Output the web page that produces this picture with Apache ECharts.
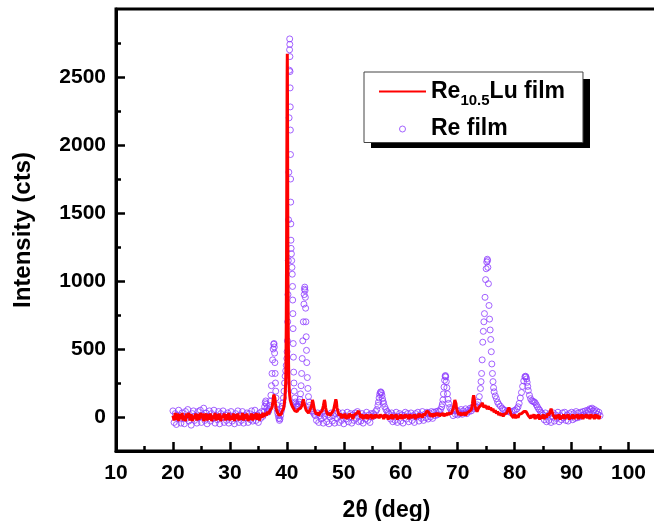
<!DOCTYPE html>
<html>
<head>
<meta charset="utf-8">
<script src="https://cdn.jsdelivr.net/npm/echarts@6/dist/echarts.min.js"></script>
<style>
  html, body { margin: 0; padding: 0; background: #fff; }
  #chart { width: 654px; height: 521px; }
</style>
</head>
<body>
<div id="chart"></div>
<script>
// XRD patterns: [2theta, counts]
const reFilm = [
  [20.0,45],[20.2,-40],[20.4,25],[20.6,-55],[20.8,10],[21.0,50],[21.2,-15],[21.4,-45],[21.6,30],[21.8,5],
  [22.0,-50],[22.2,40],[22.4,-10],[22.6,55],[22.8,-30],[23.0,0],[23.2,-60],[23.4,25],[23.6,45],[23.8,-25],
  [24.0,10],[24.2,-45],[24.4,40],[24.6,-5],[24.8,50],[25.0,-40],[25.2,15],[25.4,65],[25.6,-25],[25.8,30],
  [26.0,-50],[26.2,5],[26.4,45],[26.6,-30],[26.8,25],[27.0,-10],[27.2,50],[27.4,-45],[27.6,10],[27.8,-20],
  [28.0,40],[28.2,-50],[28.4,25],[28.6,-5],[28.8,45],[29.0,-40],[29.2,15],[29.4,-25],[29.6,30],[29.8,-45],
  [30.0,10],[30.2,40],[30.4,-30],[30.6,5],[30.8,-50],[31.0,25],[31.2,-10],[31.4,45],[31.6,-40],[31.8,15],
  [32.0,-25],[32.2,40],[32.4,-45],[32.6,10],[32.8,-5],[33.0,30],[33.2,-40],[33.4,25],[33.6,-20],[33.8,45],
  [34.0,-30],[34.2,10],[34.4,50],[34.6,-25],[34.8,15],[35.0,-40],[35.2,30],[35.4,-10],[35.6,40],[35.8,5],
  [36.0,40],[36.1,75],[36.2,105],[36.3,118],[36.4,95],[36.5,65],[36.6,45],[36.7,35],[36.8,45],[36.9,60],
  [37.0,85],[37.1,115],[37.2,160],[37.3,230],[37.4,320],[37.5,420],[37.6,500],[37.7,535],[37.75,540],[37.8,515],
  [37.85,470],[37.9,400],[37.95,320],[38.0,250],[38.05,190],[38.1,140],[38.2,90],[38.3,55],[38.4,30],[38.5,10],
  [38.6,-10],[38.7,-25],[38.8,-15],[38.9,10],[39.0,40],[39.1,60],[39.2,80],[39.3,105],[39.4,140],[39.5,190],
  [39.6,250],[39.7,300],[39.8,340],[39.9,380],[40.0,430],[40.05,480],[40.1,560],[40.15,700],[40.2,900],[40.25,1150],
  [40.3,1450],[40.35,1800],[40.4,2200],[40.45,2550],[40.48,2700],[40.5,2780],[40.52,2740],[40.54,2650],[40.56,2540],[40.58,2420],
  [40.6,2280],[40.62,2110],[40.64,1930],[40.66,1750],[40.68,1580],[40.7,1420],[40.72,1300],[40.75,1240],[40.8,1200],[40.85,1150],
  [40.9,1100],[40.95,1050],[41.0,960],[41.03,860],[41.06,760],[41.09,650],[41.12,540],[41.15,440],[41.2,330],[41.25,250],
  [41.3,190],[41.4,140],[41.5,110],[41.6,95],[41.7,85],[41.8,80],[41.9,75],[42.0,80],[42.1,95],[42.2,110],
  [42.3,130],[42.4,170],[42.5,230],[42.6,320],[42.7,430],[42.8,560],[42.9,700],[43.0,830],[43.05,900],[43.1,940],
  [43.15,955],[43.2,930],[43.25,880],[43.3,800],[43.35,700],[43.4,590],[43.45,490],[43.5,400],[43.6,290],[43.7,210],
  [43.8,150],[43.9,110],[44.0,85],[44.2,60],[44.4,45],[44.6,35],[44.8,20],[45.0,10],
  [45.2,-25],[45.4,30],[45.6,-40],[45.8,10],[46.0,-15],[46.2,35],[46.4,-45],[46.6,5],[46.8,25],[47.0,-35],
  [47.2,15],[47.4,-50],[47.6,0],[47.8,30],[48.0,-30],[48.2,10],[48.4,-45],[48.6,25],[48.8,-10],[49.0,35],
  [49.2,-40],[49.4,5],[49.6,-25],[49.8,30],[50.0,-50],[50.2,10],[50.4,-15],[50.6,35],[50.8,-35],[51.0,0],
  [51.2,25],[51.4,-45],[51.6,15],[51.8,-25],[52.0,30],[52.2,-10],[52.4,40],[52.6,-35],[52.8,5],[53.0,-30],
  [53.2,25],[53.4,-45],[53.6,10],[53.8,-15],[54.0,35],[54.2,-25],[54.4,15],[54.6,-40],[54.8,25],[55.0,0],
  [55.2,25],[55.4,10],[55.6,40],[55.8,55],[56.0,85],[56.1,110],[56.2,140],[56.3,165],[56.4,180],[56.5,185],
  [56.6,178],[56.7,160],[56.8,135],[56.9,115],[57.0,100],[57.2,75],[57.4,55],[57.6,40],[57.8,30],[58.0,20],
  [58.2,-15],[58.4,30],[58.6,-35],[58.8,10],[59.0,-25],[59.2,35],[59.4,-40],[59.6,5],[59.8,25],[60.0,-30],
  [60.2,15],[60.4,-45],[60.6,10],[60.8,35],[61.0,-15],[61.2,25],[61.4,-35],[61.6,5],[61.8,30],[62.0,-25],
  [62.2,10],[62.4,-40],[62.6,25],[62.8,0],[63.0,35],[63.2,-30],[63.4,15],[63.6,-10],[63.8,40],[64.0,-25],
  [64.2,20],[64.4,-5],[64.6,35],[64.8,-15],[65.0,30],[65.2,0],[65.4,40],[65.6,-10],[65.8,35],[66.0,10],
  [66.2,40],[66.4,15],[66.6,45],[66.8,40],[67.0,55],[67.2,75],[67.3,95],[67.4,125],[67.5,170],[67.6,220],
  [67.7,270],[67.8,300],[67.85,305],[67.9,295],[68.0,260],[68.1,215],[68.2,170],[68.3,130],[68.4,100],[68.6,70],
  [68.8,55],[69.0,45],[69.2,10],[69.4,45],[69.6,20],[69.8,50],[70.0,15],[70.2,40],[70.4,25],[70.6,55],
  [70.8,20],[71.0,45],[71.2,30],[71.4,60],[71.6,25],[71.8,50],[72.0,40],[72.2,65],[72.4,45],[72.6,70],
  [72.8,60],[73.0,75],[73.2,80],[73.4,90],[73.6,110],[73.8,150],[74.0,210],[74.1,260],[74.2,320],[74.3,420],
  [74.4,550],[74.5,630],[74.6,700],[74.7,760],[74.8,880],[74.9,1010],[75.0,1090],[75.1,1140],[75.2,1160],[75.25,1150],
  [75.3,1100],[75.4,980],[75.5,820],[75.6,720],[75.7,640],[75.8,570],[75.9,480],[76.0,390],[76.1,320],[76.2,260],
  [76.3,215],[76.4,185],[76.6,155],[76.8,135],[77.0,110],[77.2,95],[77.5,80],[77.8,65],[78.0,55],[78.3,50],
  [78.6,40],[78.9,45],[79.2,35],[79.5,40],[79.8,45],[80.1,50],[80.4,60],[80.6,75],[80.8,100],[81.0,140],
  [81.2,180],[81.4,225],[81.6,265],[81.8,295],[81.9,300],[82.0,295],[82.1,280],[82.2,255],[82.3,225],[82.4,195],
  [82.6,160],[82.8,135],[83.0,120],[83.2,115],[83.4,112],[83.6,105],[83.8,90],[84.0,75],[84.2,60],[84.4,50],
  [84.6,35],[84.8,25],[85.0,15],[85.2,-20],[85.4,30],[85.6,-35],[85.8,10],[86.0,-25],[86.2,25],[86.4,-40],
  [86.6,5],[86.8,30],[87.0,-30],[87.2,15],[87.4,-10],[87.6,35],[87.8,-35],[88.0,10],[88.2,-20],[88.4,30],
  [88.6,-5],[88.8,35],[89.0,-25],[89.2,15],[89.4,-30],[89.6,25],[89.8,0],[90.0,35],[90.2,-20],[90.4,25],
  [90.6,-10],[90.8,40],[91.0,-5],[91.2,30],[91.4,0],[91.6,35],[91.8,10],[92.0,40],[92.2,15],[92.4,45],
  [92.6,25],[92.8,50],[93.0,40],[93.2,60],[93.4,55],[93.6,65],[93.8,45],[94.0,55],[94.2,30],[94.4,45],
  [94.6,20],[94.8,35],[95.0,10]
];

const reLuFilm = [
  [20.0,10],[20.2,-25],[20.4,30],[20.6,-20],[20.8,25],[21.0,-30],[21.2,20],[21.4,-15],[21.6,30],[21.8,-25],
  [22.0,10],[22.2,-30],[22.4,25],[22.6,-5],[22.8,30],[23.0,-25],[23.2,20],[23.4,-30],[23.6,10],[23.8,-15],
  [24.0,25],[24.2,-25],[24.4,20],[24.6,-20],[24.8,30],[25.0,-10],[25.2,25],[25.4,-30],[25.6,5],[25.8,25],
  [26.0,-25],[26.2,20],[26.4,-20],[26.6,25],[26.8,-30],[27.0,10],[27.2,-15],[27.4,30],[27.6,-25],[27.8,20],
  [28.0,-20],[28.2,25],[28.4,-30],[28.6,10],[28.8,-5],[29.0,25],[29.2,-25],[29.4,20],[29.6,-20],[29.8,30],
  [30.0,-25],[30.2,10],[30.4,-20],[30.6,25],[30.8,-30],[31.0,20],[31.2,-15],[31.4,25],[31.6,-25],[31.8,10],
  [32.0,-20],[32.2,30],[32.4,-25],[32.6,20],[32.8,-15],[33.0,25],[33.2,-30],[33.4,10],[33.6,-20],[33.8,25],
  [34.0,-25],[34.2,20],[34.4,-15],[34.6,30],[34.8,-20],[35.0,25],[35.2,-25],[35.4,20],[35.6,-5],[35.8,30],
  [36.0,0],[36.2,30],[36.4,10],[36.6,40],[36.8,20],[37.0,45],[37.2,35],[37.4,70],[37.5,95],[37.6,130],
  [37.7,165],[37.8,175],[37.9,140],[38.0,100],[38.1,70],[38.2,50],[38.4,30],[38.6,15],[38.8,25],[39.0,20],
  [39.2,45],[39.4,60],[39.5,80],[39.6,110],[39.7,160],[39.8,260],[39.85,420],[39.9,700],[39.95,1200],[40.0,1900],
  [40.05,2500],[40.08,2670],[40.1,2550],[40.13,2100],[40.16,1550],[40.2,1000],[40.25,620],[40.3,400],[40.35,290],[40.4,220],
  [40.5,160],[40.6,125],[40.8,95],[41.0,75],[41.2,60],[41.4,45],[41.6,55],[41.8,40],[42.0,55],[42.2,45],
  [42.4,65],[42.6,80],[42.8,115],[42.9,130],[43.0,110],[43.2,75],[43.4,50],[43.6,40],[43.8,30],[44.0,45],
  [44.2,55],[44.4,90],[44.5,125],[44.6,110],[44.8,60],[45.0,35],[45.2,20],[45.4,35],[45.6,10],[45.8,30],
  [46.0,25],[46.2,45],[46.4,80],[46.6,125],[46.7,110],[46.8,70],[47.0,35],[47.2,15],[47.4,30],[47.6,10],
  [47.8,25],[48.0,30],[48.2,50],[48.4,90],[48.6,130],[48.7,115],[48.8,70],[49.0,35],[49.2,10],[49.4,25],
  [49.6,-10],[49.8,20],[50.0,-5],[50.2,25],[50.4,-15],[50.6,15],[50.8,-10],[51.0,25],[51.2,0],[51.4,20],
  [51.6,-15],[51.8,15],[52.0,5],[52.2,25],[52.4,30],[52.6,45],[52.8,20],[53.0,-5],[53.2,20],[53.4,-15],
  [53.6,15],[53.8,-10],[54.0,20],[54.2,-15],[54.4,15],[54.6,-5],[54.8,20],[55.0,-15],[55.2,15],[55.4,-10],
  [55.6,20],[55.8,-5],[56.0,15],[56.2,-10],[56.4,20],[56.6,0],[56.8,15],[57.0,-15],[57.2,20],[57.4,-5],
  [57.6,15],[57.8,-20],[58.0,10],[58.2,-10],[58.4,20],[58.6,-15],[58.8,15],[59.0,-5],[59.2,20],[59.4,-20],
  [59.6,10],[59.8,-10],[60.0,20],[60.2,-15],[60.4,15],[60.6,-10],[60.8,20],[61.0,-5],[61.2,15],[61.4,-15],
  [61.6,20],[61.8,-10],[62.0,15],[62.2,-5],[62.4,20],[62.6,-15],[62.8,15],[63.0,-5],[63.2,25],[63.4,0],
  [63.6,20],[63.8,-5],[64.0,25],[64.2,10],[64.4,30],[64.6,45],[64.8,55],[65.0,30],[65.2,5],[65.4,25],
  [65.6,0],[65.8,25],[66.0,5],[66.2,30],[66.4,10],[66.6,30],[66.8,5],[67.0,25],[67.2,10],[67.4,30],
  [67.6,5],[67.8,25],[68.0,10],[68.2,30],[68.4,15],[68.6,35],[68.8,20],[69.0,40],[69.2,60],[69.4,100],
  [69.5,125],[69.6,130],[69.7,100],[69.8,60],[70.0,35],[70.2,15],[70.4,35],[70.6,10],[70.8,30],[71.0,15],
  [71.2,35],[71.4,10],[71.6,30],[71.8,20],[72.0,40],[72.2,30],[72.4,55],[72.6,100],[72.7,140],[72.8,160],
  [72.9,140],[73.0,90],[73.2,55],[73.4,40],[73.6,60],[73.8,75],[74.0,70],[74.2,90],[74.3,105],[74.4,95],
  [74.6,70],[74.8,85],[75.0,75],[75.2,60],[75.4,80],[75.6,55],[75.8,70],[76.0,45],[76.2,60],[76.4,35],
  [76.6,50],[76.8,25],[77.0,40],[77.2,15],[77.4,30],[77.6,10],[77.8,25],[78.0,5],[78.2,20],[78.4,10],
  [78.6,30],[78.8,50],[79.0,70],[79.2,40],[79.4,15],[79.6,25],[79.8,-5],[80.0,20],[80.2,-10],[80.4,15],
  [80.6,-5],[80.8,20],[81.0,10],[81.2,25],[81.4,30],[81.6,40],[81.8,35],[82.0,40],[82.2,25],[82.4,10],
  [82.6,20],[82.8,-10],[83.0,15],[83.2,-5],[83.4,20],[83.6,-15],[83.8,15],[84.0,-10],[84.2,20],[84.4,-20],
  [84.6,10],[84.8,-10],[85.0,20],[85.2,-15],[85.4,15],[85.6,-5],[85.8,25],[86.0,10],[86.2,35],[86.4,60],
  [86.6,35],[86.8,10],[87.0,20],[87.2,-15],[87.4,15],[87.6,-10],[87.8,20],[88.0,-20],[88.2,10],[88.4,-10],
  [88.6,20],[88.8,-15],[89.0,15],[89.2,-5],[89.4,20],[89.6,-20],[89.8,10],[90.0,-10],[90.2,20],[90.4,-15],
  [90.6,15],[90.8,-5],[91.0,20],[91.2,-15],[91.4,15],[91.6,-10],[91.8,20],[92.0,-15],[92.2,15],[92.4,-5],
  [92.6,20],[92.8,-10],[93.0,15],[93.2,-15],[93.4,20],[93.6,-5],[93.8,15],[94.0,-15],[94.2,20],[94.4,-10],
  [94.6,15],[94.8,-15],[95.0,10]
];

// tick positions
const xMajorTicks = [10, 20, 30, 40, 50, 60, 70, 80, 90, 100];
const xMinorTicks = [15, 25, 35, 45, 55, 65, 75, 85, 95];
const yMajorTicks = [0, 500, 1000, 1500, 2000, 2500];
const yMinorTicks = [250, 750, 1250, 1750, 2250, 2750];

const font = "'Liberation Sans', Arial, sans-serif";
const purple = '#8c3cff';
const red = '#ff0000';

const tickLine = {color: '#000', width: 2.5};
const labelStyle = {color: '#000', fontSize: 21, fontWeight: 'bold', fontFamily: font};

const chart = echarts.init(document.getElementById('chart'));

const option = {
  animation: false,
  backgroundColor: '#fff',
  grid: {
    left: 116, top: 9, right: -3, bottom: 70,
    outerBoundsMode: 'none',
    show: true, borderColor: '#000', borderWidth: 3
  },
  // legend drop shadow
  graphic: [{
    type: 'rect', z: 3, silent: true,
    shape: {x: 371, y: 79, width: 219, height: 69},
    style: {fill: '#000'}
  }],
  xAxis: [
    {
      type: 'value', min: 10, max: 105, position: 'bottom',
      axisLine: {show: true, onZero: false, lineStyle: {color: '#000', width: 3}},
      axisTick: {show: true, inside: true, length: 9, customValues: xMajorTicks, lineStyle: tickLine},
      axisLabel: {customValues: xMajorTicks, margin: 12, formatter: v => String(v), ...labelStyle},
      splitLine: {show: false},
      name: '2θ (deg)', nameLocation: 'middle', nameGap: 48,
      nameTextStyle: {color: '#000', fontSize: 23, fontWeight: 'bold', fontFamily: font}
    },
    {
      type: 'value', min: 10, max: 105, position: 'bottom',
      axisLine: {show: false, onZero: false},
      axisTick: {show: true, inside: true, length: 5, customValues: xMinorTicks, lineStyle: tickLine},
      axisLabel: {show: false},
      splitLine: {show: false}
    }
  ],
  yAxis: [
    {
      type: 'value', min: -250, max: 3000, position: 'left',
      axisLine: {show: true, onZero: false, lineStyle: {color: '#000', width: 3}},
      axisTick: {show: true, inside: true, length: 9, customValues: yMajorTicks, lineStyle: tickLine},
      axisLabel: {customValues: yMajorTicks, margin: 10, formatter: v => String(v), ...labelStyle},
      splitLine: {show: false},
      name: 'Intensity (cts)', nameLocation: 'middle', nameGap: 81,
      nameTextStyle: {color: '#000', fontSize: 24, fontWeight: 'bold', fontFamily: font}
    },
    {
      type: 'value', min: -250, max: 3000, position: 'left',
      axisLine: {show: false, onZero: false},
      axisTick: {show: true, inside: true, length: 5, customValues: yMinorTicks, lineStyle: tickLine},
      axisLabel: {show: false},
      splitLine: {show: false}
    }
  ],
  legend: {
    orient: 'vertical', left: 364, top: 72, z: 4,
    data: [
      {name: 'Re10.5Lu film', icon: 'path://M0,0H46V2H0Z'},
      {name: 'Re film', icon: 'circle'}
    ],
    itemWidth: 47, itemHeight: 6, itemGap: 9,
    padding: [8, 18, 2, 15],
    backgroundColor: '#fff', borderColor: '#444', borderWidth: 1,
    selectedMode: false,
    itemStyle: {borderWidth: 1},
    formatter: function (name) {
      return name === 'Re10.5Lu film' ? '{a|Re}{s|10.5}{a|Lu film}' : '{a|Re film}';
    },
    textStyle: {
      color: '#000', fontFamily: font, fontWeight: 'bold', fontSize: 23,
      rich: {
        a: {color: '#000', fontFamily: font, fontWeight: 'bold', fontSize: 23, lineHeight: 34, verticalAlign: 'middle'},
        s: {color: '#000', fontFamily: font, fontWeight: 'bold', fontSize: 15, lineHeight: 34, verticalAlign: 'bottom'}
      }
    }
  },
  series: [
    {
      name: 'Re film', type: 'scatter', data: reFilm,
      symbol: 'circle', symbolSize: 6,
      itemStyle: {color: 'rgba(0,0,0,0)', borderColor: purple, borderWidth: 1},
      z: 2
    },
    {
      name: 'Re10.5Lu film', type: 'line', data: reLuFilm,
      showSymbol: false, symbol: 'none',
      lineStyle: {color: red, width: 3},
      itemStyle: {color: red},
      z: 3
    }
  ]
};

chart.setOption(option);
</script>
</body>
</html>
